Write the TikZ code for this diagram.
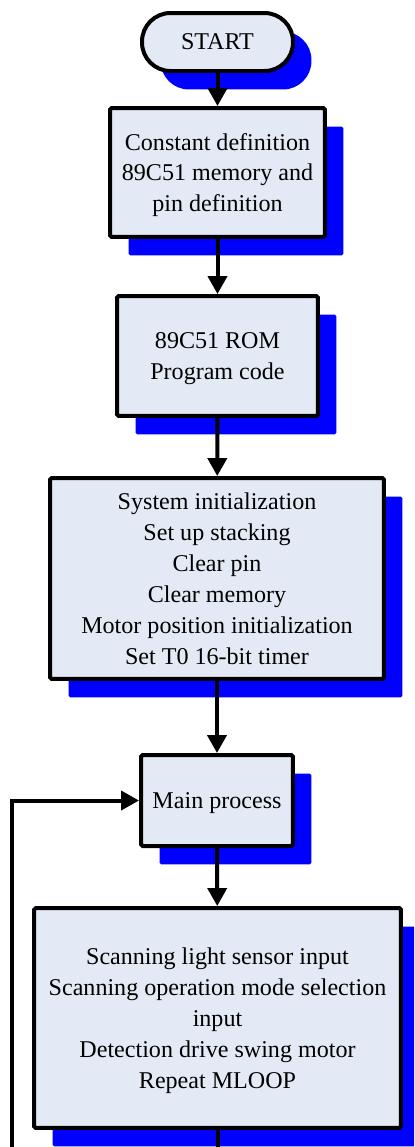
\documentclass[tikz,border=0pt]{standalone}
\usepackage{fontspec}
\setmainfont{Liberation Serif}
\usetikzlibrary{arrows.meta,shadows}

\definecolor{boxfill}{RGB}{228,234,245}

\tikzset{
  blockbox/.style={draw=black, line width=0.08cm, fill=boxfill, align=center,
    rounded corners=1pt, inner sep=0pt, text depth=-1pt, font=\fontsize{13.7}{17.6}\selectfont,
    drop shadow={shadow xshift=0.37cm, shadow yshift=-0.37cm, fill=blue, opacity=1}},
  startbox/.style={blockbox, rounded corners=0.57cm},
  flow/.style={line width=0.08cm, -{Triangle[length=0.36cm,width=0.38cm]}}
}

\begin{document}
\begin{tikzpicture}[x=0.02cm,y=-0.02cm]
    \useasboundingbox (0,0) rectangle (414,1147);
    \clip (0,0) rectangle (414,1147);

    \node[startbox, minimum width=3.02cm, minimum height=1.16cm] (start) at (217.5,42) {START};
    \node[blockbox, minimum width=4.3cm, minimum height=2.58cm] (def) at (217.5,172.5)
      {Constant definition\\89C51 memory and\\pin definition};
    \node[blockbox, minimum width=4.02cm, minimum height=2.4cm] (rom) at (217.5,356)
      {89C51 ROM\\Program code};
    \node[blockbox, minimum width=6.68cm, minimum height=4.02cm] (init) at (217,578.5)
      {System initialization\\Set up stacking\\Clear pin\\Clear memory\\Motor position initialization\\Set T0 16-bit timer};
    \node[blockbox, minimum width=3.04cm, minimum height=1.82cm] (main) at (217,800.5)
      {Main process};
    \node[blockbox, minimum width=7.34cm, minimum height=4.4cm] (scan) at (217.5,1018)
      {Scanning light sensor input\\Scanning operation mode selection\\input\\Detection drive swing motor\\Repeat MLOOP};

    \coordinate (loopcorner) at (12,1190);

    \draw[flow] (start) -- (def);
    \draw[flow] (def) -- (rom);
    \draw[flow] (rom) -- (init);
    \draw[flow] (init) -- (main);
    \draw[flow] (main) -- (scan);
    \draw[flow] (scan.south) |- (loopcorner) |- (main.west);
\end{tikzpicture}
\end{document}
